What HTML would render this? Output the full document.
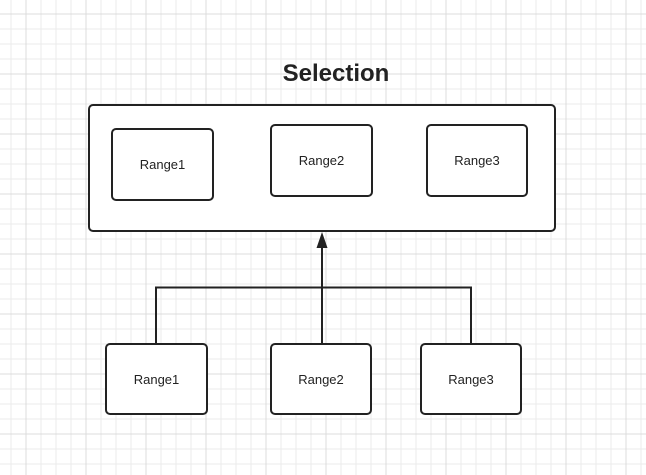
<!DOCTYPE html>
<html><head><style>
html,body{margin:0;padding:0;background:#fff;}
svg{display:block;}
text{font-family:"Liberation Sans",sans-serif;fill:#222;}
</style></head><body>
<svg width="646" height="475" xmlns="http://www.w3.org/2000/svg">
<defs>
<pattern id="g" x="10.5" y="13.5" width="15" height="15" patternUnits="userSpaceOnUse">
<path d="M0.5 0V15M0 0.5H15" stroke="#ebebeb" stroke-width="1" fill="none"/>
</pattern>
<pattern id="G" x="25.5" y="13.5" width="60" height="60" patternUnits="userSpaceOnUse">
<path d="M0.5 0V60M0 0.5H60" stroke="#dcdcdc" stroke-width="1" fill="none"/>
</pattern>
</defs>
<rect width="646" height="475" fill="url(#g)"/>
<rect width="646" height="475" fill="url(#G)"/>
<text x="336" y="81" font-size="24" font-weight="bold" text-anchor="middle">Selection</text>
<g fill="#fff" stroke="#222" stroke-width="2">
<rect x="89" y="105" width="466" height="126" rx="4"/>
<rect x="112" y="129" width="101" height="71" rx="4"/>
<rect x="271" y="125" width="101" height="71" rx="4"/>
<rect x="427" y="125" width="100" height="71" rx="4"/>
<rect x="106" y="344" width="101" height="70" rx="4"/>
<rect x="271" y="344" width="100" height="70" rx="4"/>
<rect x="421" y="344" width="100" height="70" rx="4"/>
</g>
<path d="M156 344V287.5H471V344M322 344V246" stroke="#222" stroke-width="2" fill="none"/>
<polygon points="322,232 316.5,248 327.5,248" fill="#222"/>
<g font-size="13" text-anchor="middle">
<text x="162.5" y="169">Range1</text>
<text x="321.5" y="165">Range2</text>
<text x="477" y="165">Range3</text>
<text x="156.5" y="384">Range1</text>
<text x="321" y="384">Range2</text>
<text x="471" y="384">Range3</text>
</g>
</svg>
</body></html>
